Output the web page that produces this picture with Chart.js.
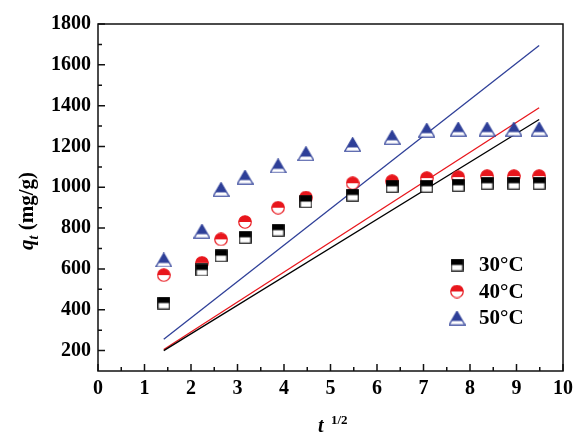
<!DOCTYPE html>
<html>
<head>
  <meta charset="utf-8">
  <title>qt vs t^1/2</title>
  <script src="https://cdn.jsdelivr.net/npm/chart.js"></script>
  <style>
    body { margin: 0; background: #fff; }
  </style>
</head>
<body>
  <canvas id="graphique" width="579" height="432"></canvas>

  <script>
    // data
    const sqrtT = [1.414, 2.236, 2.646, 3.162, 3.873, 4.472, 5.477, 6.325, 7.071, 7.746, 8.367, 8.944, 9.487];
    const q30 = [433, 595, 665, 755, 790, 930, 962, 1005, 1005, 1010, 1020, 1020, 1020];
    const q40 = [570, 630, 745, 830, 900, 950, 1020, 1030, 1045, 1050, 1055, 1055, 1055];
    const q50 = [644, 785, 990, 1050, 1105, 1165, 1210, 1245, 1280, 1285, 1285, 1285, 1285];

    // fitted lines (ends)
    const fitX = [1.414, 9.487];
    const fit30 = [200, 1332];
    const fit40 = [205, 1390];
    const fit50 = [255, 1695];

    const labels = ["30°C", "40°C", "50°C"];
    const xTicks = [0, 1, 2, 3, 4, 5, 6, 7, 8, 9, 10];
    const yTicks = [200, 400, 600, 800, 1000, 1200, 1400, 1600, 1800];

    const BLACK = "#000000";
    const RED = "#e8161c";
    const BLUE = "#2e3f98";
    const FONT = "'Liberation Serif', 'Times New Roman', serif";

    // half filled markers
    function marker(kind, color) {
      const w = kind === "tri" ? 17 : (kind === "circ" ? 14 : 13);
      const h = kind === "tri" ? 15 : w;
      const split = kind === "tri" ? 0.7 : 0.5;
      const c = document.createElement("canvas");
      c.width = w; c.height = h;
      const g = c.getContext("2d");
      const path = () => {
        g.beginPath();
        if (kind === "sq") g.rect(0.75, 0.75, w - 1.5, h - 1.5);
        else if (kind === "circ") g.arc(w / 2, h / 2, w / 2 - 0.75, 0, Math.PI * 2);
        else { g.moveTo(w / 2, 0.75); g.lineTo(w - 0.75, h - 0.75); g.lineTo(0.75, h - 0.75); g.closePath(); }
      };
      g.save();
      path(); g.clip();
      g.fillStyle = "#fff"; g.fillRect(0, 0, w, h);
      g.fillStyle = color; g.fillRect(0, 0, w, h * split);
      g.restore();
      g.lineWidth = 1.2; g.strokeStyle = color;
      path(); g.stroke();
      return c;
    }
    const markers = [marker("sq", BLACK), marker("circ", RED), marker("tri", BLUE)];

    const pts = (xs, ys) => xs.map((x, i) => ({ x: x, y: ys[i] }));

    const lineSet = (ys, color) => ({
      type: "line", data: pts(fitX, ys), borderColor: color, borderWidth: 1.3,
      pointRadius: 0, fill: false, showLine: true
    });
    const dotSet = (ys, i) => ({
      data: pts(sqrtT, ys), pointStyle: markers[i], pointRadius: 7, showLine: false
    });

    // frame, inward ticks, titles and legend
    const decor = {
      id: "decor",
      afterDraw(chart) {
        const ctx = chart.ctx;
        const a = chart.chartArea;
        const xs = chart.scales.x, ys = chart.scales.y;
        ctx.save();
        ctx.strokeStyle = "#111";
        ctx.lineWidth = 1.5;
        ctx.strokeRect(a.left, a.top, a.right - a.left, a.bottom - a.top);
        ctx.beginPath();
        for (let v = 0; v <= 10; v += 0.5) {
          const px = xs.getPixelForValue(v);
          const len = Number.isInteger(v) ? 7 : 4;
          ctx.moveTo(px, a.bottom); ctx.lineTo(px, a.bottom - len);
        }
        for (let v = 200; v <= 1800; v += 100) {
          const py = ys.getPixelForValue(v);
          const len = v % 200 === 0 ? 7 : 4;
          ctx.moveTo(a.left, py); ctx.lineTo(a.left + len, py);
        }
        ctx.stroke();

        ctx.fillStyle = "#000";
        // x title
        ctx.textBaseline = "alphabetic";
        ctx.textAlign = "left";
        ctx.font = "italic bold 20px " + FONT;
        ctx.fillText("t", 318, 432);
        ctx.font = "bold 13px " + FONT;
        ctx.fillText("1/2", 331, 424);

        // y title
        ctx.translate(33, 211);
        ctx.rotate(-Math.PI / 2);
        ctx.font = "italic bold 21px " + FONT;
        const wq = ctx.measureText("q").width;
        ctx.font = "italic bold 14px " + FONT;
        const wt = ctx.measureText("t").width;
        ctx.font = "bold 21px " + FONT;
        const wr = ctx.measureText(" (mg/g)").width;
        let x0 = -(wq + wt + wr) / 2;
        ctx.font = "italic bold 21px " + FONT;
        ctx.fillText("q", x0, 0);
        ctx.font = "italic bold 14px " + FONT;
        ctx.fillText("t", x0 + wq, 5);
        ctx.font = "bold 21px " + FONT;
        ctx.fillText(" (mg/g)", x0 + wq + wt, 0);
        ctx.setTransform(1, 0, 0, 1, 0, 0);

        // legend
        ctx.font = "bold 21px " + FONT;
        ctx.textBaseline = "middle";
        labels.forEach((lab, i) => {
          const y = 265 + i * 26.5;
          const m = markers[i];
          ctx.drawImage(m, 457 - m.width / 2, y - m.height / 2);
          ctx.fillText(lab, 479, y + 1);
        });
        ctx.restore();
      }
    };

    const tickFont = { family: FONT, size: 20, weight: "bold" };

    new Chart(document.getElementById("graphique").getContext("2d"), {
      type: "scatter",
      data: {
        datasets: [
          dotSet(q30, 0), dotSet(q40, 1), dotSet(q50, 2),
          lineSet(fit30, BLACK), lineSet(fit40, RED), lineSet(fit50, BLUE)
        ]
      },
      options: {
        responsive: false,
        animation: false,
        devicePixelRatio: 1,
        layout: { padding: { top: 24, right: 12, left: 0, bottom: 0 } },
        plugins: { legend: { display: false }, tooltip: { enabled: false } },
        scales: {
          x: {
            type: "linear", min: 0, max: 10,
            afterBuildTicks: s => { s.ticks = xTicks.map(v => ({ value: v })); },
            afterFit: s => { s.height = 61; },
            grid: { display: false, drawTicks: false },
            border: { display: false },
            ticks: { font: tickFont, color: "#000", padding: 6, maxRotation: 0, autoSkip: false,
                     callback: v => String(v) }
          },
          y: {
            type: "linear", min: 100, max: 1800,
            afterBuildTicks: s => { s.ticks = yTicks.map(v => ({ value: v })); },
            afterFit: s => { s.width = 98; },
            grid: { display: false, drawTicks: false },
            border: { display: false },
            ticks: { font: tickFont, color: "#000", padding: 7, autoSkip: false,
                     callback: v => String(v) }
          }
        }
      },
      plugins: [decor]
    });
  </script>
</body>
</html>
